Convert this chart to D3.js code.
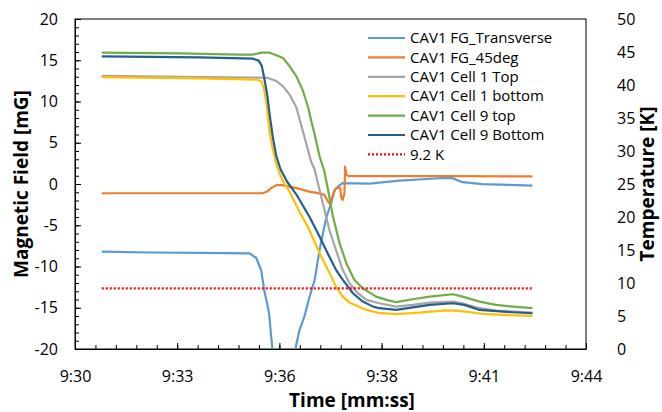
<!DOCTYPE html>
<html>
<head>
<meta charset="utf-8">
<script src="https://cdn.jsdelivr.net/npm/d3@7"></script>
<style>
body { margin: 0; background: #fff; }
text { font-family: "Open Sans", sans-serif; fill: #000; }
</style>
</head>
<body>
<svg id="chart" width="662" height="412"></svg>
<script>
// values
const transTimes = ["9:30:44","9:32:02","9:33:25","9:34:47","9:34:58","9:35:06","9:35:11","9:35:19","9:35:22","9:35:25","9:35:43","9:36:01","9:36:09","9:36:17","9:36:25","9:36:34","9:36:42","9:36:47","9:36:53","9:37:01","9:37:07","9:37:12","9:37:20","9:38:04","9:38:53","9:39:59","9:40:19","9:40:37","9:41:10","9:41:54","9:42:32"];
const transValues = [-8.2,-8.3,-8.36,-8.4,-8.97,-10.43,-12.85,-15.64,-18.07,-20.4,-28.6,-20.4,-17.7,-16.09,-13.82,-11.64,-8.0,-6.18,-4.11,-2.33,-0.72,-0.32,0.1,0.04,0.41,0.7,0.74,0.22,-0.02,-0.11,-0.19];

const deg45Times = ["9:30:44","9:33:25","9:35:08","9:35:16","9:35:23","9:35:30","9:35:38","9:35:53","9:36:09","9:36:25","9:36:42","9:36:50","9:36:56","9:37:00","9:37:02","9:37:07","9:37:12","9:37:16","9:37:18","9:37:20","9:37:23","9:37:24","9:37:26","9:37:31","9:40:16","9:42:32"];
const deg45Values = [-1.12,-1.12,-1.12,-0.9,-0.47,-0.17,-0.11,-0.32,-0.59,-0.92,-1.14,-1.32,-2.14,-2.54,-1.72,-0.72,-0.39,-0.51,-1.72,-1.93,-1.08,2.11,1.1,0.95,0.95,0.92];

const cell1TopTimes = ["9:30:44","9:33:25","9:35:16","9:35:31","9:35:42","9:35:53","9:36:04","9:36:14","9:36:22","9:36:28","9:36:34","9:36:42","9:36:50","9:36:58","9:37:09","9:37:20","9:37:31","9:37:45","9:37:59","9:38:20","9:38:48","9:39:15","9:39:43","9:40:21","9:40:37","9:41:05","9:41:32","9:42:00","9:42:32"];
const cell1TopValues = [41.4,41.2,41.1,40.6,39.8,38.5,36.6,33.2,30.5,28.4,27.2,24.1,21.1,18.1,15.0,12.0,10.0,8.45,7.44,6.93,6.42,6.68,7.03,7.18,6.93,6.18,5.81,5.66,5.51];

const cell1BotTimes = ["9:30:44","9:33:25","9:35:00","9:35:07","9:35:11","9:35:15","9:35:18","9:35:21","9:35:26","9:35:33","9:35:41","9:35:53","9:36:09","9:36:25","9:36:42","9:36:58","9:37:09","9:37:20","9:37:31","9:37:59","9:38:20","9:38:48","9:39:26","9:40:10","9:40:32","9:41:16","9:42:32"];
const cell1BotValues = [41.2,41.0,40.8,40.5,39.3,37.0,34.4,32.2,29.9,27.4,25.6,23.8,20.8,18.1,14.5,11.6,9.45,7.94,7.06,5.92,5.46,5.27,5.51,5.84,5.77,5.27,5.01];

const cell9TopTimes = ["9:30:44","9:32:52","9:34:30","9:34:52","9:35:07","9:35:20","9:35:31","9:35:42","9:35:53","9:36:04","9:36:14","9:36:23","9:36:28","9:36:34","9:36:42","9:36:50","9:36:56","9:37:04","9:37:15","9:37:26","9:37:39","9:37:53","9:38:15","9:38:32","9:38:48","9:39:15","9:39:43","9:40:21","9:40:37","9:41:05","9:41:32","9:42:00","9:42:32"];
const cell9TopValues = [44.9,44.8,44.6,44.6,44.9,44.9,44.5,44.1,42.8,41.3,39.3,36.7,34.7,32.5,29.2,26.9,24.1,20.1,16.0,13.0,10.5,9.2,7.94,7.44,7.09,7.54,7.94,8.3,7.94,7.18,6.68,6.42,6.18];

const cell9BotTimes = ["9:30:44","9:33:25","9:34:52","9:35:02","9:35:07","9:35:11","9:35:16","9:35:20","9:35:25","9:35:31","9:35:38","9:35:49","9:36:04","9:36:25","9:36:42","9:36:58","9:37:09","9:37:20","9:37:37","9:37:53","9:38:10","9:38:20","9:38:48","9:39:43","9:40:21","9:40:40","9:41:05","9:42:00","9:42:32"];
const cell9BotValues = [44.35,44.2,44.0,43.7,42.9,41.1,38.5,35.5,32.2,29.2,27.2,25.3,23.4,20.1,17.05,14.0,12.0,10.5,8.45,7.18,6.42,6.18,5.92,6.68,6.93,6.68,5.92,5.57,5.42];

const refTimes = ["9:30:44","9:42:32"];
const refValues = [9.2, 9.2];

const seriesNames = ["CAV1 FG_Transverse","CAV1 FG_45deg","CAV1 Cell 1 Top","CAV1 Cell 1 bottom","CAV1 Cell 9 top","CAV1 Cell 9 Bottom","9.2 K"];
const seriesColors = ["#5B9BD5","#ED7D31","#A5A5A5","#FFC000","#70AD47","#255E91","#FF0000"];

const xTickLabels = ["9:30","9:33","9:36","9:38","9:41","9:44"];
const leftTicks = [-20,-15,-10,-5,0,5,10,15,20];
const rightTicks = [0,5,10,15,20,25,30,35,40,45,50];

let parseTime = d3.timeParse("%H:%M:%S");

function makeSeries(times, values, axis, i) {
    return {
        name: seriesNames[i],
        color: seriesColors[i],
        axis: axis,
        dashed: i == 6,
        points: times.map((t, j) => ({ t: parseTime(t), v: values[j] }))
    };
}

let series = [
    makeSeries(transTimes, transValues, "left", 0),
    makeSeries(deg45Times, deg45Values, "left", 1),
    makeSeries(cell1TopTimes, cell1TopValues, "right", 2),
    makeSeries(cell1BotTimes, cell1BotValues, "right", 3),
    makeSeries(cell9TopTimes, cell9TopValues, "right", 4),
    makeSeries(cell9BotTimes, cell9BotValues, "right", 5),
    makeSeries(refTimes, refValues, "right", 6)
];

let chart = d3.select("#chart"),
    margin = { top: 19, right: 76, bottom: 63, left: 75 },
    width = +chart.attr("width") - margin.left - margin.right,
    height = +chart.attr("height") - margin.top - margin.bottom;

let t0 = parseTime("9:30:00"), t1 = parseTime("9:44:00");

let x = d3.scaleTime()
    .domain([t0, t1])
    .range([0, width]);

let yLeft = d3.scaleLinear()
    .domain([-20, 20])
    .range([height, 0]);

let yRight = d3.scaleLinear()
    .domain([0, 50])
    .range([height, 0]);

// excel style time axis: 5 equal major steps, 5 minor steps each
let step = (t1 - t0) / 5;
let majorTimes = d3.range(0, 6).map(i => new Date(+t0 + i * step));
let minorTimes = d3.range(0, 26).map(i => new Date(+t0 + i * step / 5));

let focus = chart.append("g")
    .attr("transform", "translate(" + margin.left + "," + margin.top + ")");

focus.append("defs").append("clipPath")
    .attr("id", "plot-clip")
    .append("rect")
    .attr("width", width)
    .attr("height", height);

// minor ticks
focus.append("g")
    .attr("transform", "translate(0," + height + ")")
    .call(d3.axisBottom(x).tickValues(minorTimes).tickSize(-4).tickSizeOuter(0).tickFormat(""))
    .call(g => g.select(".domain").remove());

focus.append("g")
    .call(d3.axisLeft(yLeft).ticks(40).tickSize(-4).tickSizeOuter(0).tickFormat(""))
    .call(g => g.select(".domain").remove());

let xAxis = d3.axisBottom(x)
    .tickValues(majorTimes)
    .tickSize(-6)
    .tickSizeOuter(0)
    .tickPadding(22)
    .tickFormat((d, i) => xTickLabels[i]);

let yAxis = d3.axisLeft(yLeft)
    .tickValues(leftTicks)
    .tickSize(-6)
    .tickSizeOuter(0)
    .tickPadding(17)
    .tickFormat(d => d);

let y2Axis = d3.axisRight(yRight)
    .tickValues(rightTicks)
    .tickSize(0)
    .tickPadding(31)
    .tickFormat(d => d);

focus.append("g")
    .attr("class", "x axis")
    .attr("transform", "translate(0," + height + ")")
    .call(xAxis);

focus.append("g")
    .attr("class", "y axis")
    .call(yAxis);

focus.append("g")
    .attr("class", "y2 axis")
    .attr("transform", "translate(" + width + ",0)")
    .call(y2Axis)
    .call(g => g.select(".domain").remove());

focus.selectAll(".axis text")
    .style("font-size", "16px");

focus.selectAll(".axis .domain, .axis line")
    .attr("stroke", "#000");

// plot border
focus.append("rect")
    .attr("width", width)
    .attr("height", height)
    .attr("fill", "none")
    .attr("stroke", "#000")
    .attr("stroke-width", 1);

let lines = focus.append("g")
    .attr("clip-path", "url(#plot-clip)");

series.forEach(s => {
    let yScale = s.axis == "left" ? yLeft : yRight;
    let line = d3.line()
        .x(d => x(d.t))
        .y(d => yScale(d.v));
    lines.append("path")
        .datum(s.points)
        .attr("d", line)
        .attr("fill", "none")
        .attr("stroke", s.color)
        .attr("stroke-width", 2.2)
        .attr("stroke-linejoin", "round")
        .attr("stroke-dasharray", s.dashed ? "2,2" : null);
});

// legend
let legend = chart.append("g")
    .attr("transform", "translate(368,38)");

series.forEach((s, i) => {
    let row = legend.append("g")
        .attr("transform", "translate(0," + (i * 19.4) + ")");
    row.append("line")
        .attr("x1", 0)
        .attr("x2", 37)
        .attr("stroke", s.color)
        .attr("stroke-width", 2.2)
        .attr("stroke-dasharray", s.dashed ? "2,2" : null);
    row.append("text")
        .attr("x", 42)
        .attr("dy", "0.35em")
        .style("font-size", "15px")
        .text(s.name);
});

// axis titles
chart.append("text")
    .attr("transform", "translate(21," + (margin.top + height / 2) + ") rotate(-90)")
    .attr("text-anchor", "middle")
    .attr("dy", "0.35em")
    .style("font-size", "19px")
    .style("font-weight", "bold")
    .text("Magnetic Field [mG]");

chart.append("text")
    .attr("transform", "translate(647," + (margin.top + height / 2) + ") rotate(-90)")
    .attr("text-anchor", "middle")
    .attr("dy", "0.35em")
    .style("font-size", "19px")
    .style("font-weight", "bold")
    .text("Temperature [K]");

chart.append("text")
    .attr("x", 352)
    .attr("y", 400)
    .attr("text-anchor", "middle")
    .attr("dy", "0.35em")
    .style("font-size", "19px")
    .style("font-weight", "bold")
    .text("Time [mm:ss]");
</script>
</body>
</html>
